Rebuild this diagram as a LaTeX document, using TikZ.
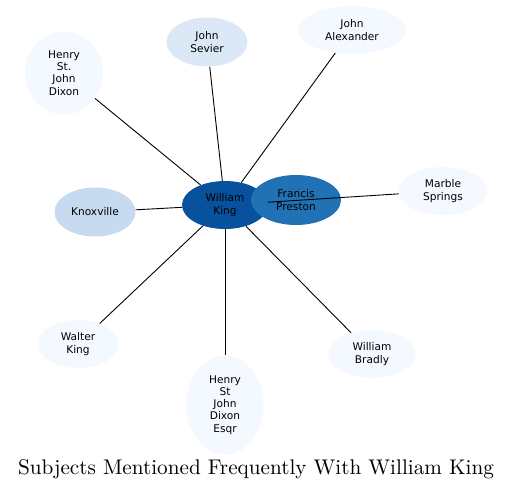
\documentclass[tikz,border=0pt]{standalone}
\usepackage{fontspec}
\newfontfamily\subjfont{DejaVu Sans}
\newfontfamily\titlefont{lmroman10-regular}[Extension=.otf]
\usepackage{xcolor}
\usetikzlibrary{shapes.geometric,backgrounds}

\definecolor{kingblue}{HTML}{08519C}
\definecolor{midblue}{HTML}{2171B5}
\definecolor{lightblue}{HTML}{C6DBEF}
\definecolor{paleblue}{HTML}{DBE9F6}
\definecolor{faintblue}{HTML}{F4F9FF}

\begin{document}
\begin{tikzpicture}[x=1pt,y=-1pt,
        subj/.style={ellipse,inner sep=0pt,align=center,font=\subjfont\fontsize{10.6}{12.2}\selectfont},
        link/.style={line width=0.9pt}]
        \useasboundingbox (0,0) rectangle (513,492);
        \node[subj,fill=kingblue,minimum width=86pt,minimum height=48pt] (king) at (225,205) {William\\King};
        \node[subj,fill=midblue,minimum width=90pt,minimum height=50pt] (preston) at (296,200) {Francis\\Preston};
        \node[subj,fill=paleblue,minimum width=81pt,minimum height=49pt] (sevier) at (207,42) {John\\Sevier};
        \node[subj,fill=faintblue,minimum width=107pt,minimum height=48pt] (alexander) at (352,30) {John\\Alexander};
        \node[subj,fill=faintblue,minimum width=78pt,minimum height=83pt] (dixon) at (64,73) {Henry\\St.\\John\\Dixon};
        \node[subj,fill=lightblue,minimum width=81pt,minimum height=49pt] (knoxville) at (95,212) {Knoxville};
        \node[subj,fill=faintblue,minimum width=89pt,minimum height=48pt] (springs) at (443,191) {Marble\\Springs};
        \node[subj,fill=faintblue,minimum width=81pt,minimum height=48pt] (walter) at (78,344) {Walter\\King};
        \node[subj,fill=faintblue,minimum width=87pt,minimum height=48pt] (bradly) at (372,354) {William\\Bradly};
        \node[subj,fill=faintblue,minimum width=77pt,minimum height=99pt] (esqr) at (225,405) {Henry\\St\\John\\Dixon\\Esqr};
        \begin{scope}[on background layer]
            \draw[link] (king) -- (sevier);
            \draw[link] (king) -- (alexander);
            \draw[link] (king) -- (dixon);
            \draw[link] (king) -- (knoxville);
            \draw[link] (king) -- (walter);
            \draw[link] (king) -- (bradly);
            \draw[link] (king) -- (esqr);
        \end{scope}
        \draw[link] (king) -- (springs);
        \node[font=\titlefont\fontsize{21.2}{25}\selectfont] (title) at (256,469) {Subjects Mentioned Frequently With William King};
    \end{tikzpicture}
\end{document}
